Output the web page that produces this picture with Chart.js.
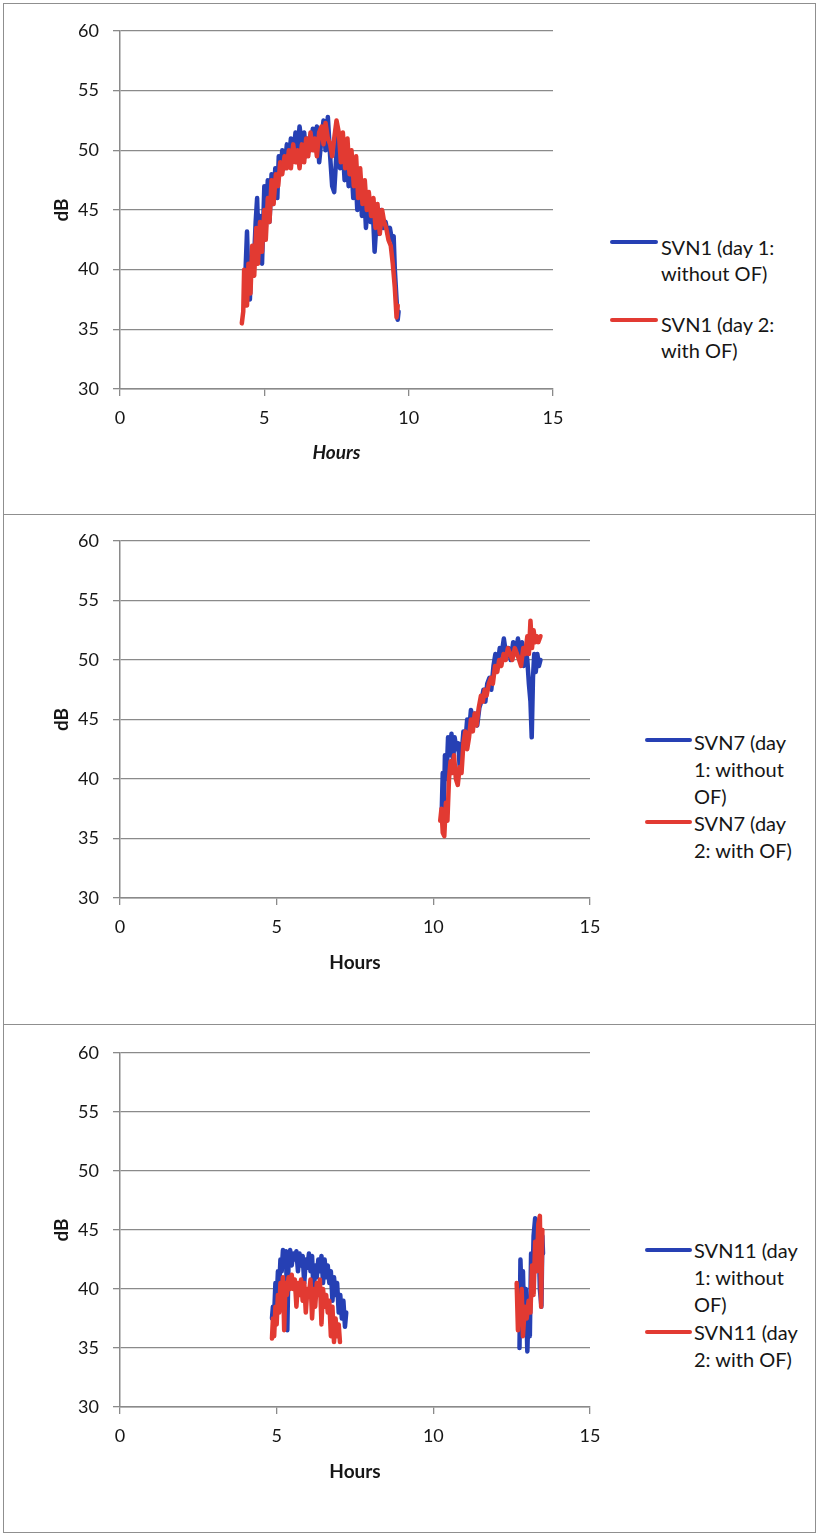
<!DOCTYPE html>
<html><head><meta charset="utf-8">
<script src="https://cdn.jsdelivr.net/npm/chart.js@4.4.1/dist/chart.umd.min.js"></script>
<style>
body{margin:0;background:#fff;width:819px;height:1534px;position:relative;overflow:hidden;font-family:Lato,"Open Sans",sans-serif;}
.frame{position:absolute;left:3px;width:813px;border:1px solid #8f8f8f;box-sizing:border-box;}
canvas{position:absolute;left:0;}
.sw{position:absolute;height:4px;border-radius:2px;}
.lg{position:absolute;font-size:20px;line-height:26px;color:#161616;white-space:nowrap;}
</style></head><body>
<div class="frame" style="top:3px;height:512px"></div>
<div class="frame" style="top:514px;height:511px"></div>
<div class="frame" style="top:1024px;height:509px"></div>

<canvas id="c1" width="600" height="514" style="top:0;width:600px;height:514px"></canvas>
<canvas id="c2" width="640" height="510" style="top:514px;width:640px;height:510px"></canvas>
<canvas id="c3" width="640" height="508" style="top:1024px;width:640px;height:508px"></canvas>

<div class="sw" style="left:610px;top:240px;width:48px;background:#2640b4"></div>
<div class="lg" style="left:661px;top:234px">SVN1 (day 1:<br>without OF)</div>
<div class="sw" style="left:610px;top:318px;width:48px;background:#e23a32"></div>
<div class="lg" style="left:661px;top:311px">SVN1 (day 2:<br>with OF)</div>

<div class="sw" style="left:645px;top:738px;width:47px;background:#2640b4"></div>
<div class="lg" style="left:694px;top:729px;line-height:27px">SVN7 (day<br>1: without<br>OF)</div>
<div class="sw" style="left:645px;top:820px;width:47px;background:#e23a32"></div>
<div class="lg" style="left:694px;top:810px;line-height:27px">SVN7 (day<br>2: with OF)</div>

<div class="sw" style="left:645px;top:1248px;width:47px;background:#2640b4"></div>
<div class="lg" style="left:694px;top:1237px;line-height:27px">SVN11 (day<br>1: without<br>OF)</div>
<div class="sw" style="left:645px;top:1330px;width:47px;background:#e23a32"></div>
<div class="lg" style="left:694px;top:1319px;line-height:27px">SVN11 (day<br>2: with OF)</div>

<script>
// ---- Panel 1: SVN1 ----
const svn1Day1Hours = [4.35,4.40,4.45,4.50,4.55,4.62,4.70,4.75,4.80,4.85,4.92,5.00,5.05,5.12,5.18,5.25,5.30,5.38,5.45,5.50,5.55,5.62,5.70,5.78,5.85,5.92,6.00,6.08,6.15,6.22,6.30,6.38,6.45,6.52,6.60,6.68,6.75,6.82,6.90,6.98,7.05,7.12,7.20,7.28,7.35,7.42,7.48,7.55,7.62,7.70,7.78,7.85,7.92,8.00,8.08,8.15,8.22,8.30,8.38,8.45,8.52,8.60,8.68,8.75,8.82,8.90,8.98,9.05,9.12,9.20,9.28,9.35,9.42,9.48,9.52,9.58,9.62,9.65];
const svn1Day1Db = [40.0,43.2,39.0,37.5,41.0,39.5,44.0,46.0,42.0,44.5,40.5,47.0,43.5,47.5,44.0,48.0,45.5,48.5,46.0,49.5,48.0,50.0,48.5,50.5,49.0,51.0,49.5,51.5,50.0,52.0,50.5,51.5,49.5,51.0,50.0,51.8,50.5,52.0,49.0,51.0,52.5,50.0,52.8,49.5,47.0,46.5,49.0,51.5,48.5,51.0,47.5,50.5,47.0,49.5,46.0,48.5,45.0,48.0,44.5,47.0,43.5,46.0,44.0,45.5,41.5,44.5,43.0,45.0,43.5,44.0,43.0,43.5,42.5,42.8,40.0,37.5,35.8,36.5];
const svn1Day2Hours = [4.22,4.27,4.30,4.35,4.40,4.45,4.52,4.58,4.65,4.72,4.78,4.85,4.92,5.00,5.05,5.12,5.18,5.25,5.32,5.40,5.48,5.55,5.62,5.70,5.78,5.85,5.92,6.00,6.08,6.15,6.22,6.30,6.38,6.45,6.52,6.60,6.68,6.75,6.82,6.90,6.98,7.05,7.12,7.20,7.28,7.35,7.42,7.50,7.58,7.65,7.72,7.80,7.88,7.95,8.02,8.10,8.18,8.25,8.32,8.40,8.48,8.55,8.62,8.70,8.78,8.85,8.92,9.00,9.08,9.15,9.22,9.30,9.38,9.45,9.52,9.58,9.62];
const svn1Day2Db = [35.5,36.5,40.0,38.5,37.0,40.5,38.0,42.0,39.5,43.5,40.5,44.0,41.5,45.0,42.5,46.0,44.0,47.5,45.5,48.0,47.0,49.0,48.0,49.5,48.5,50.0,48.5,50.5,49.0,50.0,48.5,50.5,49.0,51.0,49.5,51.5,50.0,51.0,49.5,51.5,52.0,50.5,52.3,51.0,50.5,49.5,51.0,52.5,51.5,49.0,51.5,48.5,51.0,48.0,50.0,47.0,49.5,46.0,48.5,45.5,47.5,45.0,46.5,44.5,46.0,43.5,45.5,43.0,45.0,44.0,43.5,42.5,42.0,40.5,38.5,36.0,37.0];

// ---- Panel 2: SVN7 ----
const svn7Day1Hours = [10.27,10.30,10.33,10.37,10.42,10.47,10.52,10.58,10.63,10.68,10.74,10.80,10.85,10.90,10.96,11.02,11.08,11.14,11.20,11.27,11.33,11.40,11.47,11.53,11.60,11.66,11.72,11.79,11.85,11.92,11.98,12.05,12.12,12.18,12.25,12.32,12.40,12.47,12.55,12.62,12.70,12.77,12.83,12.88,12.94,13.00,13.05,13.10,13.14,13.18,13.22,13.27,13.32,13.37,13.42];
const svn7Day1Db = [37.5,40.5,36.5,42.0,40.0,43.5,42.0,43.8,41.5,43.5,42.5,43.0,40.5,42.0,44.0,43.0,45.0,44.0,45.8,45.0,45.5,44.5,46.0,46.5,47.5,46.5,48.0,48.5,47.5,49.5,50.5,49.5,51.0,50.5,51.8,50.5,51.0,50.0,51.5,50.5,51.8,50.5,51.5,49.5,51.0,50.0,48.0,46.5,43.5,48.5,50.5,49.0,50.5,49.5,50.0];
const svn7Day2Hours = [10.22,10.26,10.30,10.35,10.40,10.45,10.50,10.55,10.60,10.66,10.72,10.78,10.84,10.90,10.96,11.02,11.08,11.14,11.20,11.26,11.32,11.38,11.45,11.52,11.58,11.64,11.70,11.77,11.84,11.90,11.97,12.04,12.10,12.17,12.24,12.31,12.38,12.45,12.52,12.60,12.67,12.74,12.80,12.87,12.93,13.00,13.05,13.10,13.15,13.20,13.25,13.30,13.35,13.42];
const svn7Day2Db = [36.5,37.5,35.5,35.2,38.0,36.5,40.0,41.5,40.5,42.0,40.0,39.5,41.0,40.5,43.0,44.0,42.5,43.5,45.0,44.0,45.5,44.5,46.0,47.0,46.5,47.5,47.0,48.0,48.5,48.0,49.5,49.0,50.0,49.5,50.5,50.0,51.0,50.5,50.0,51.0,50.5,50.0,49.5,51.0,50.5,52.0,50.5,53.3,51.0,52.5,51.5,52.0,51.5,52.0];

// ---- Panel 3: SVN11 (null = gap between measurement periods) ----
const svn11Day1Hours = [4.85,4.88,4.92,4.96,5.00,5.04,5.08,5.12,5.16,5.20,5.25,5.30,5.34,5.38,5.43,5.48,5.53,5.58,5.63,5.68,5.73,5.78,5.83,5.88,5.93,5.98,6.03,6.08,6.13,6.18,6.23,6.28,6.33,6.38,6.43,6.48,6.53,6.58,6.63,6.68,6.73,6.78,6.83,6.88,6.93,6.98,7.03,7.08,7.13,7.18,7.22,10.0,12.75,12.78,12.82,12.86,12.90,12.95,13.00,13.04,13.08,13.12,13.16,13.20,13.25,13.30,13.35,13.40,13.45,13.48,13.50];
const svn11Day1Db = [37.5,38.5,37.8,40.5,39.0,41.5,40.0,42.5,41.5,43.3,42.0,43.2,36.5,42.5,43.3,42.0,43.0,42.5,43.2,41.5,43.0,42.0,42.8,40.5,42.5,41.8,43.0,41.5,42.8,39.5,42.0,41.0,42.5,41.5,42.8,40.5,42.5,41.0,42.0,40.5,41.5,39.0,41.0,39.5,40.5,38.0,39.5,37.5,39.0,36.8,38.0,null,35.0,42.5,39.0,41.5,37.0,40.0,34.7,38.5,36.0,43.0,40.0,44.5,46.0,42.5,45.5,40.0,38.5,44.5,43.0];
const svn11Day2Hours = [4.85,4.88,4.92,4.96,5.00,5.04,5.08,5.12,5.16,5.20,5.24,5.28,5.33,5.38,5.43,5.48,5.53,5.58,5.63,5.68,5.73,5.78,5.83,5.88,5.93,5.98,6.03,6.08,6.13,6.18,6.23,6.28,6.33,6.38,6.43,6.48,6.53,6.58,6.63,6.68,6.73,6.78,6.83,6.88,6.93,6.98,7.02,10.0,12.66,12.70,12.74,12.78,12.82,12.86,12.92,12.98,13.04,13.10,13.15,13.20,13.25,13.30,13.35,13.40,13.44,13.48];
const svn11Day2Db = [35.8,37.5,36.0,38.5,37.0,39.5,38.0,40.5,39.5,41.0,36.5,40.5,39.5,41.0,40.0,41.2,40.0,40.8,38.5,40.5,39.5,40.8,39.0,40.5,38.0,40.0,39.5,40.8,37.5,40.0,38.5,40.5,39.5,40.8,37.0,40.0,38.5,39.5,38.0,39.0,36.0,38.5,35.5,37.5,36.0,37.0,35.5,null,40.5,36.5,39.0,37.0,40.0,36.0,38.5,37.5,39.0,38.0,42.0,39.5,44.0,41.5,45.5,46.2,38.5,45.0];

// ---- Axis settings ----
const hoursRange = [0, 15], hoursStep = 5;
const dbRange = [30, 60], dbStep = 5;

const BLUE = '#2640b4', RED = '#e23a32', GRID = '#8a8a8a', TXT = '#161616';

function pts(h, v) { return h.map((x, i) => ({ x: x, y: v[i] })); }

function makeChart(id, d1h, d1v, d2h, d2v, cfg) {
  const ctx = document.getElementById(id);
  new Chart(ctx, {
    type: 'line',
    data: {
      datasets: [
        { label: cfg.label1, data: pts(d1h, d1v), borderColor: BLUE, backgroundColor: BLUE, order: 1 },
        { label: cfg.label2, data: pts(d2h, d2v), borderColor: RED, backgroundColor: RED, order: 0 }
      ]
    },
    options: {
      responsive: false,
      animation: false,
      parsing: false,
      spanGaps: false,
      elements: {
        line: { borderWidth: 4.5, tension: 0, borderJoinStyle: 'round', borderCapStyle: 'round' },
        point: { radius: 0, hoverRadius: 0 }
      },
      layout: { padding: { top: cfg.padTop, right: cfg.padRight, bottom: 0, left: 0 } },
      plugins: { legend: { display: false }, tooltip: { enabled: false } },
      scales: {
        x: {
          type: 'linear', min: hoursRange[0], max: hoursRange[1],
          ticks: { stepSize: hoursStep, color: TXT, padding: 11, font: { family: 'Lato', size: 18 }, maxRotation: 0 },
          grid: { drawOnChartArea: false, drawTicks: true, tickLength: 7, color: GRID, lineWidth: 1.3 },
          border: { display: true, color: GRID, width: 1.5 },
          title: { display: true, text: 'Hours', color: TXT,
                   font: { family: 'Lato', size: 19, weight: 'bold', style: cfg.italic ? 'italic' : 'normal' },
                   padding: { top: 0, bottom: cfg.titleBottom } },
          afterFit: (s) => { s.height = cfg.xHeight; }
        },
        y: {
          type: 'linear', min: dbRange[0], max: dbRange[1],
          ticks: { stepSize: dbStep, color: TXT, padding: 14, font: { family: 'Lato', size: 18 } },
          grid: { drawTicks: true, tickLength: 7, color: GRID, lineWidth: 1.3 },
          border: { display: true, color: GRID, width: 1.5 },
          title: { display: true, text: 'dB', color: TXT,
                   font: { family: 'Lato', size: 19, weight: 'bold' },
                   padding: { top: 50, bottom: 0 } },
          afterFit: (s) => { s.width = 120; }
        }
      }
    }
  });
}

makeChart('c1', svn1Day1Hours, svn1Day1Db, svn1Day2Hours, svn1Day2Db,
  { label1: 'SVN1 (day 1: without OF)', label2: 'SVN1 (day 2: with OF)', padTop: 31, padRight: 47, xHeight: 125, titleBottom: 50, italic: true });
makeChart('c2', svn7Day1Hours, svn7Day1Db, svn7Day2Hours, svn7Day2Db,
  { label1: 'SVN7 (day 1: without OF)', label2: 'SVN7 (day 2: with OF)', padTop: 27, padRight: 50, xHeight: 126, titleBottom: 50, italic: false });
makeChart('c3', svn11Day1Hours, svn11Day1Db, svn11Day2Hours, svn11Day2Db,
  { label1: 'SVN11 (day 1: without OF)', label2: 'SVN11 (day 2: with OF)', padTop: 29, padRight: 50, xHeight: 125, titleBottom: 49, italic: false });
</script>
</body></html>
